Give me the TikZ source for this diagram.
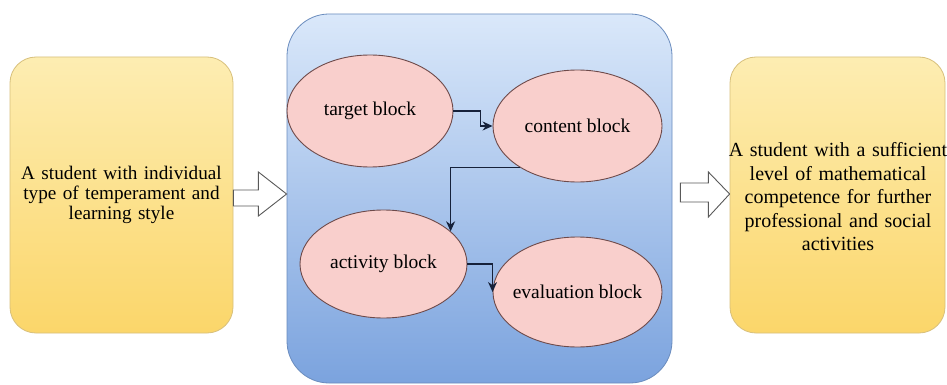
\documentclass[tikz,border=0pt]{standalone}
\usepackage{fontspec}
\setmainfont{Liberation Serif}
\newfontfamily\tnr{Liberation Serif}
\usetikzlibrary{calc,arrows.meta,shapes.geometric}
\definecolor{ytop}{HTML}{FDEDB2}
\definecolor{ybot}{HTML}{FBD66A}
\definecolor{yline}{HTML}{D8C07C}
\definecolor{btop}{HTML}{DAE8FA}
\definecolor{bbot}{HTML}{7BA3DE}
\definecolor{bline}{HTML}{6A8CBE}
\definecolor{efill}{HTML}{F9CFCC}
\definecolor{eline}{HTML}{6E4A4A}
\definecolor{conn}{HTML}{16213A}
\begin{document}
\begin{tikzpicture}[x=1pt,y=-1pt,
  ybox/.style={draw=yline, line width=0.8pt, rounded corners=26pt, top color=ytop, bottom color=ybot, inner sep=0pt},
  bbox/.style={draw=bline, line width=0.8pt, rounded corners=42pt, top color=btop, bottom color=bbot, inner sep=0pt},
  ell/.style={ellipse, draw=eline, line width=0.9pt, fill=efill, inner ysep=0pt, inner xsep=-20pt, font=\tnr\fontsize{19.5}{20}\selectfont},
  conn/.style={draw=conn, line width=1.1pt, -{Stealth[length=10pt,width=9pt]}},
  hollow/.style={draw=black!65, line width=0.9pt, fill=white},
]
\useasboundingbox (0,0) rectangle (947,385);
\fill[white] (0,0) rectangle (947,385);

\node[ybox, minimum width=223pt, minimum height=276pt] (L) at (121.5,195) {};
\node[align=center, text width=215pt, font=\tnr\fontsize{19.2}{20}\selectfont] (Lt) at (L.center)
  {A student with individual\\type of temperament and\\learning style};

\node[bbox, minimum width=385pt, minimum height=369pt] (C) at (479.5,198.5) {};

\node[ybox, minimum width=215pt, minimum height=276pt] (R) at (837.5,195) {};
\node[align=center, text width=230pt, font=\tnr\fontsize{20}{23.5}\selectfont] (Rt) at (838,197)
  {A student with a sufficient\\level of mathematical\\competence for further\\professional and social\\activities};

\node[ell, minimum width=166pt, minimum height=112pt] (T) at (370,111) {target block};
\node[ell, minimum width=169pt, minimum height=112pt] (Cn) at (577.5,126) {content block};
\node[ell, minimum width=167pt, minimum height=108pt] (A) at (383.5,264) {activity block};
\node[ell, minimum width=169pt, minimum height=110pt] (E) at (577.5,292) {evaluation block};

\draw[conn] (T.east) -- ++(27,0) |- (Cn.west);
\draw[conn] (Cn.216) -| (A.26);
\draw[conn] (A.east) -| (E.west);

% hollow block arrows
\draw[hollow] ($(L.east)+(0,-5)$) -- ++(25,0) -- ++(0,-18) -- ($(C.west)+(0,-4.5)$)
  -- ($(L.east)+(25,21)$) -- ++(0,-10) -- ($(L.east)+(0,11)$) -- cycle;
\draw[hollow] ($(C.east)+(8,-15.5)$) -- ++(28,0) -- ++(0,-11) -- ($(R.west)+(0,-1)$)
  -- ($(C.east)+(36,18.5)$) -- ++(0,-15) -- ($(C.east)+(8,3.5)$) -- cycle;
\end{tikzpicture}
\end{document}
